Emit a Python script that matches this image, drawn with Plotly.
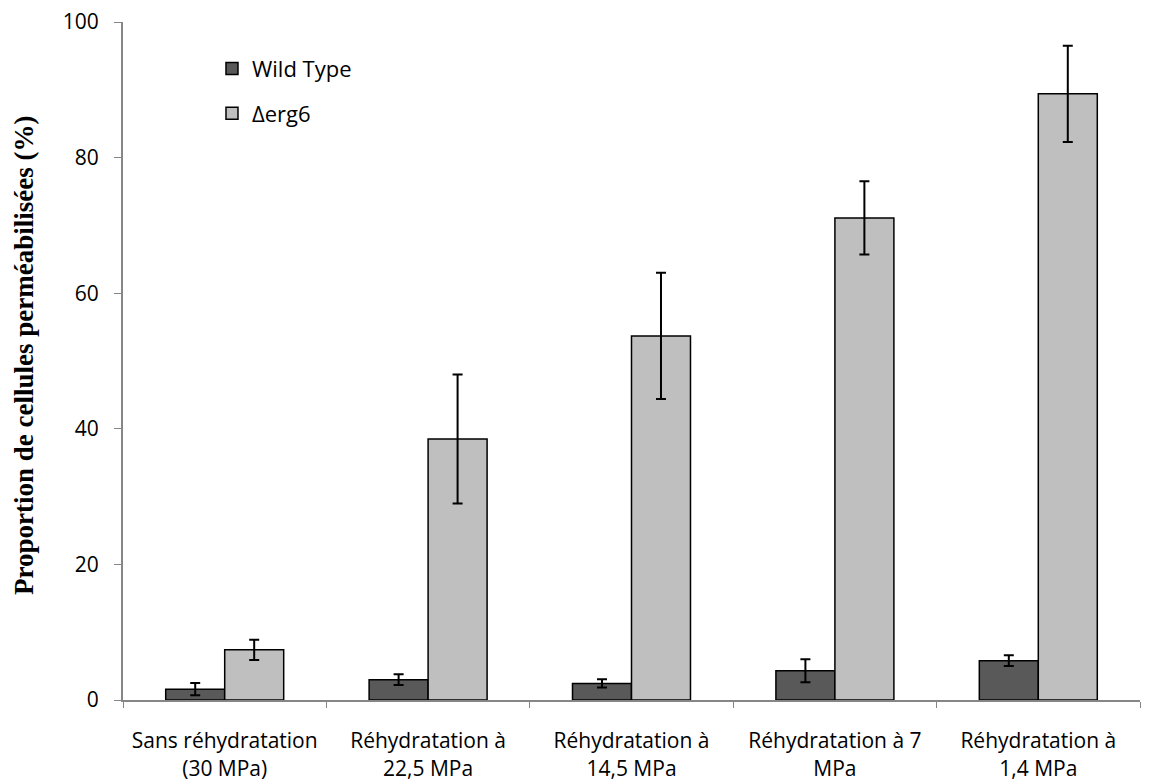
import plotly.graph_objects as go

categories = [
    "Sans réhydratation<br>(30 MPa)",
    "Réhydratation à<br>22,5 MPa",
    "Réhydratation à<br>14,5 MPa",
    "Réhydratation à 7<br>MPa",
    "Réhydratation à<br>1,4 MPa",
]
wild_type = [1.6, 3.0, 2.45, 4.3, 5.8]
wild_type_err = [0.9, 0.8, 0.6, 1.7, 0.8]
erg6 = [7.4, 38.5, 53.7, 71.1, 89.4]
erg6_err = [1.5, 9.5, 9.3, 5.4, 7.1]

fig = go.Figure()
fig.add_trace(go.Bar(
    x=categories, y=wild_type, name="Wild Type", legendgroup="wt",
    marker=dict(color="#595959", line=dict(color="black", width=1.5)),
    error_y=dict(type="data", array=wild_type_err, color="black", thickness=2, width=5),
))
fig.add_trace(go.Bar(
    x=categories, y=erg6, name="Δerg6", legendgroup="erg",
    marker=dict(color="#BFBFBF", line=dict(color="black", width=1.5)),
    error_y=dict(type="data", array=erg6_err, color="black", thickness=2, width=5),
))

axis_col = "#868686"
# page is drawn with an 8px offset, so the figure is slightly smaller than the window
fig.update_layout(
    width=1146, height=776,
    margin=dict(l=115, r=14, t=14, b=84),
    plot_bgcolor="white", paper_bgcolor="white",
    barmode="group", bargap=0.42, bargroupgap=0,
    font=dict(family="Open Sans", size=21, color="black"),
    legend=dict(x=0.0875, y=0.962, xanchor="left", yanchor="top",
                font=dict(size=22), tracegroupgap=13, traceorder="grouped",
                bgcolor="rgba(0,0,0,0)"),
    annotations=[dict(
        text="<b>Proportion de cellules perméabilisées (%)</b>",
        xref="paper", yref="paper", x=-0.098, y=0.508, xanchor="center", yanchor="middle",
        textangle=-90, showarrow=False,
        font=dict(family="Liberation Serif", size=27, color="black"),
    )],
)
fig.update_xaxes(
    type="category", tickson="boundaries", ticks="outside", ticklen=6,
    tickcolor=axis_col, showline=True, linecolor=axis_col, linewidth=2,
    ticklabelstandoff=21, showgrid=False, automargin=False,
    ticklabeloverflow="allow",
)
fig.update_yaxes(
    range=[0, 100], dtick=20, ticks="outside", ticklen=7, tickcolor=axis_col,
    showline=True, linecolor=axis_col, linewidth=2, showgrid=False, zeroline=False,
    tickfont=dict(size=21), automargin=False, ticklabelstandoff=11,
    ticklabeloverflow="allow",
)

fig.write_html("out.html")
